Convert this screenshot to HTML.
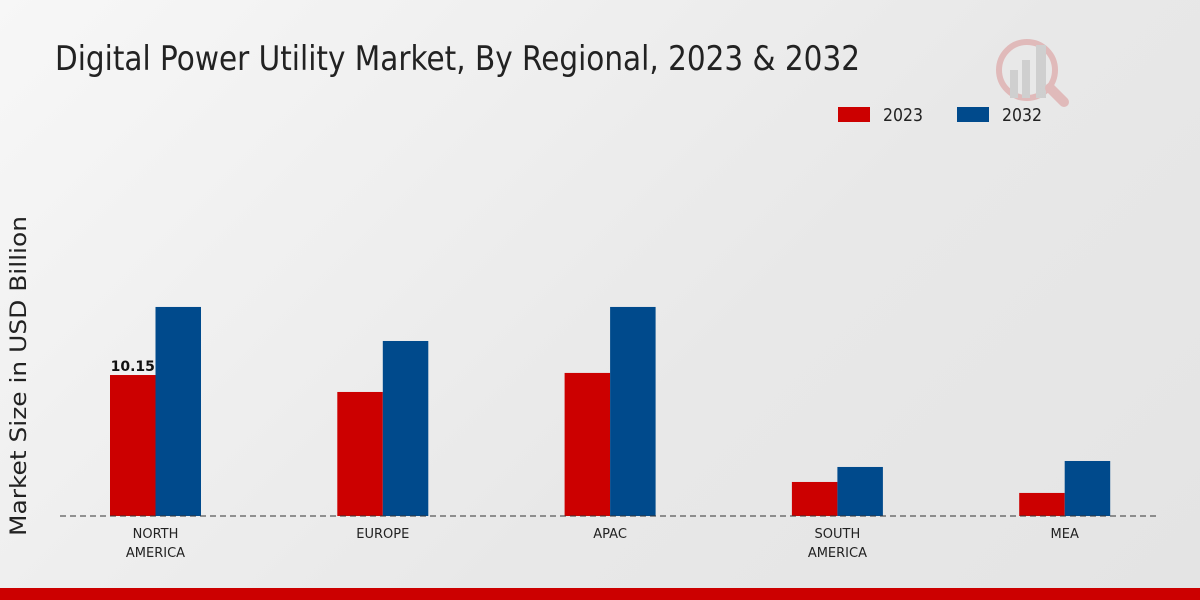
<!DOCTYPE html>
<html><head><meta charset="utf-8"><style>
html,body{margin:0;padding:0;}
body{width:1200px;height:600px;overflow:hidden;background:linear-gradient(135deg,#f7f7f7 0%,#e8e8e8 60%,#e4e4e4 100%);font-family:"DejaVu Sans","Liberation Sans",sans-serif;position:relative;}
</style></head><body>
<svg id="chart" width="1200" height="600" style="position:absolute;left:0;top:0">
<text x="55" y="70" font-size="34" fill="#222" font-family="DejaVu Sans, Liberation Sans, sans-serif" textLength="805" lengthAdjust="spacingAndGlyphs">Digital Power Utility Market, By Regional, 2023 &amp; 2032</text>
<g opacity="0.25">
<circle cx="1027" cy="70" r="28" fill="none" stroke="#c33" stroke-width="6"/>
<rect x="1010" y="70" width="8" height="28" fill="#888"/><rect x="1022" y="60" width="8" height="38" fill="#888"/><rect x="1036" y="45" width="10" height="53" fill="#888"/>
<line x1="1050" y1="88" x2="1064" y2="102" stroke="#c33" stroke-width="10" stroke-linecap="round"/>
</g>
<g>
<rect x="838" y="107" width="32" height="15" fill="#cc0000"/>
<text x="883" y="121" font-size="18" fill="#222" textLength="40" lengthAdjust="spacingAndGlyphs">2023</text>
<rect x="957" y="107" width="32" height="15" fill="#004a8c"/>
<text x="1002" y="121" font-size="18" fill="#222" textLength="40" lengthAdjust="spacingAndGlyphs">2032</text>
</g>
<text transform="translate(26,376) rotate(-90)" font-size="22" fill="#222" text-anchor="middle" textLength="320" lengthAdjust="spacingAndGlyphs">Market Size in USD Billion</text>
<g id="bars"></g>
<line x1="60" y1="516" x2="1160" y2="516" stroke="#333" stroke-width="1" stroke-dasharray="6,4"/>
<g id="labels"></g>
<rect x="0" y="588" width="1200" height="12" fill="#cc0000"/>
</svg>
<script>
const categories=[["NORTH","AMERICA"],["EUROPE"],["APAC"],["SOUTH","AMERICA"],["MEA"]];
const values2023=[10.15,8.93,10.3,2.45,1.66];
const values2032=[15.05,12.6,15.05,3.53,3.96];
const shownLabels=["10.15",null,null,null,null];
const NS="http://www.w3.org/2000/svg";
const baseY=516,pxPerUnit=13.89,x0=155.5,step=227.3,bw=45.5;
const yScale=v=>baseY-v*pxPerUnit;
const xCenter=i=>x0+i*step;
const bars=document.getElementById('bars'),labels=document.getElementById('labels');
function mk(t,a){const e=document.createElementNS(NS,t);for(const k in a)e.setAttribute(k,a[k]);return e;}
categories.forEach((c,i)=>{
 const cx=xCenter(i);
 const r1=mk('rect',{x:cx-bw,y:yScale(values2023[i]),width:bw,height:baseY-yScale(values2023[i]),fill:'#cc0000'});
 
 
 bars.appendChild(r1);
 const r2=mk('rect',{x:cx,y:yScale(values2032[i]),width:bw,height:baseY-yScale(values2032[i]),fill:'#004a8c'});
 
 
 bars.appendChild(r2);
 if(shownLabels[i]){
  const t=mk('text',{x:cx-bw/2,y:yScale(values2023[i])-4,'font-size':14,'font-weight':'bold','text-anchor':'middle',fill:'#111'});
  t.textContent=shownLabels[i];
  
  
  labels.appendChild(t);
 }
 c.forEach((line,j)=>{
  const t=mk('text',{x:cx,y:538+j*19,'font-size':13,'text-anchor':'middle',fill:'#222'});
  t.textContent=line;
  
  
  labels.appendChild(t);
 });
});
</script>
</body></html>
